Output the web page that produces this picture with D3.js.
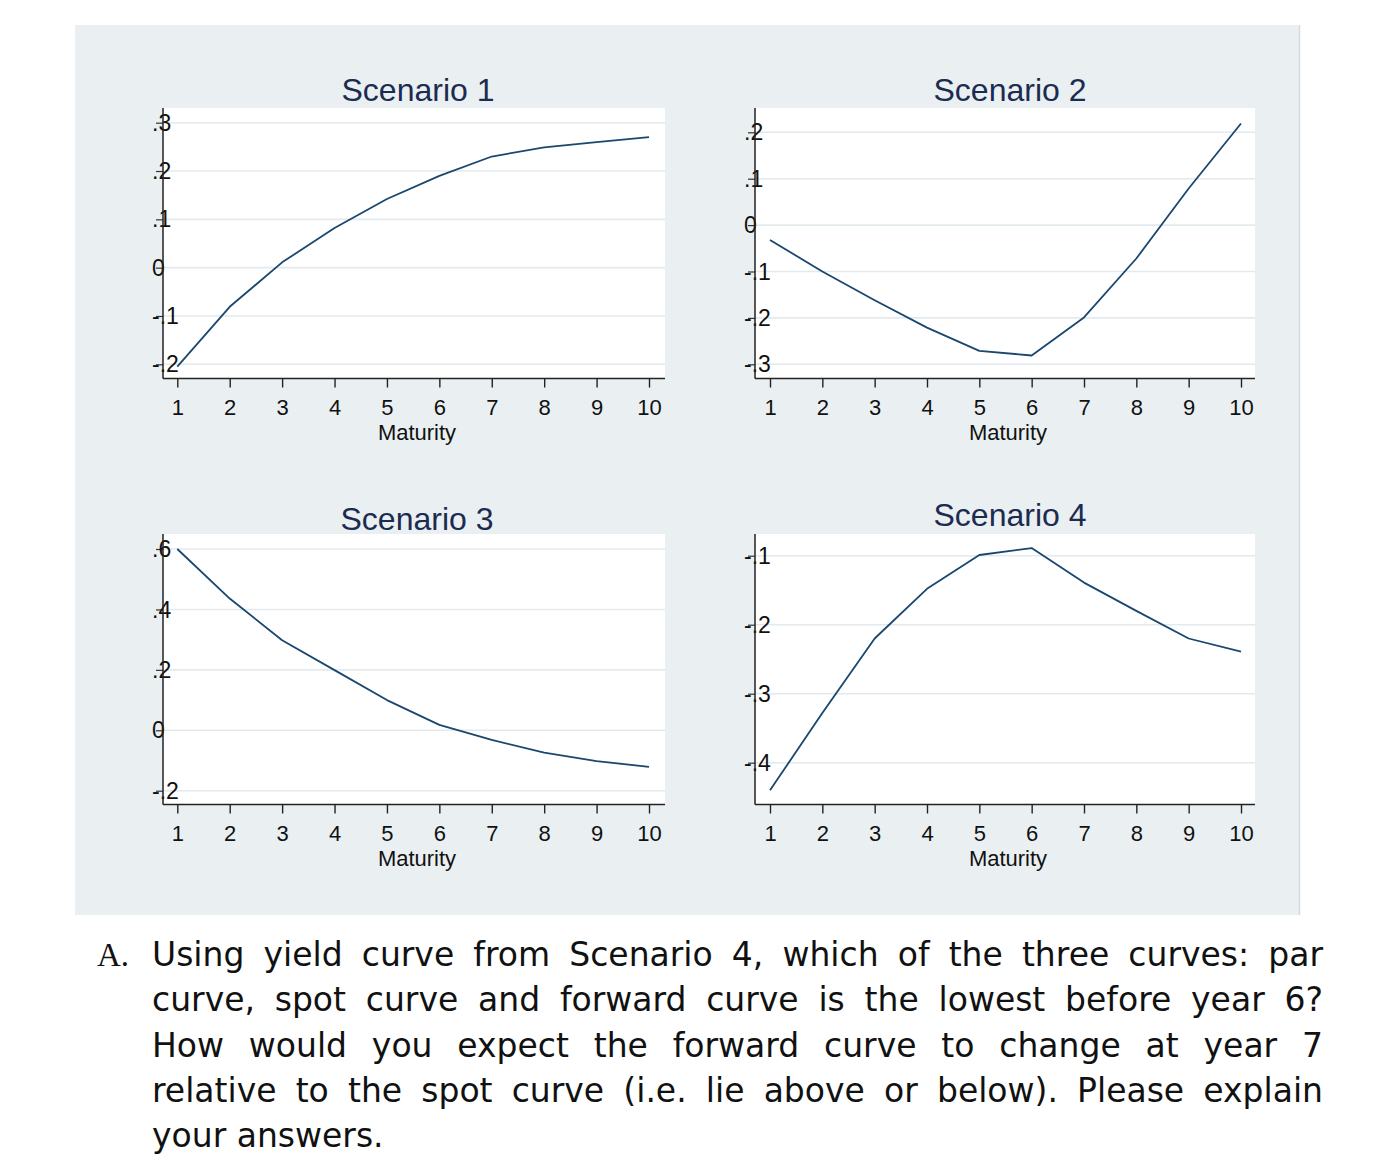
<!DOCTYPE html>
<html>
<head>
<meta charset="utf-8">
<script src="https://cdn.jsdelivr.net/npm/d3@7"></script>
<style>
  html, body { margin: 0; padding: 0; background: #ffffff; }
  svg { display: block; }
</style>
</head>
<body>
<svg id="chart" width="1382" height="1168"></svg>
<script>
// ---------------- data ----------------
const maturities = [1, 2, 3, 4, 5, 6, 7, 8, 9, 10];
const scenarioTitles = ["Scenario 1", "Scenario 2", "Scenario 3", "Scenario 4"];
const scenario1 = [-0.205, -0.081, 0.011, 0.082, 0.142, 0.19, 0.23, 0.249, 0.26, 0.27];
const scenario2 = [-0.032, -0.10, -0.162, -0.221, -0.271, -0.281, -0.199, -0.072, 0.079, 0.219];
const scenario3 = [0.60, 0.436, 0.298, 0.199, 0.10, 0.018, -0.032, -0.074, -0.102, -0.121];
const scenario4 = [-0.44, -0.328, -0.22, -0.148, -0.099, -0.089, -0.139, -0.18, -0.22, -0.239];
const yTicks1 = [-0.2, -0.1, 0, 0.1, 0.2, 0.3];
const yTicks2 = [-0.3, -0.2, -0.1, 0, 0.1, 0.2];
const yTicks3 = [-0.2, 0, 0.2, 0.4, 0.6];
const yTicks4 = [-0.4, -0.3, -0.2, -0.1];
const xTicks = [1, 2, 3, 4, 5, 6, 7, 8, 9, 10];
const xAxisTitle = "Maturity";
const questionLabel = "A.";
const questionLines = [
  "Using yield curve from Scenario 4, which of the three curves: par",
  "curve, spot curve and forward curve is the lowest before year 6?",
  "How would you expect the forward curve to change at year 7",
  "relative to the spot curve (i.e. lie above or below). Please explain",
  "your answers."
];

// ---------------- layout ----------------
const svg = d3.select("#chart");
const lineColor = "#1a476f";
const titleColor = "#1c2b50";
const gridColor = "#e3eaee";
const axisFont = "'Liberation Sans', Arial, sans-serif";

svg.append("rect").attr("x", 75).attr("y", 25).attr("width", 1224).attr("height", 890)
  .attr("fill", "#eaf0f2");
svg.append("line").attr("x1", 1299.5).attr("x2", 1299.5).attr("y1", 25).attr("y2", 915)
  .attr("stroke", "#d3dbdf").attr("stroke-width", 1.5);

const panels = [
  { title: scenarioTitles[0], values: scenario1, ticks: yTicks1,
    left: 163, right: 665, top: 108, bottom: 378.5, xr: [177.3, 649],
    yd: [-0.2, 0.3], yr: [364.3, 122.7], titleX: 418, titleY: 101 },
  { title: scenarioTitles[1], values: scenario2, ticks: yTicks2,
    left: 755, right: 1255, top: 108, bottom: 378.5, xr: [770, 1241],
    yd: [-0.3, 0.2], yr: [364.3, 132.3], titleX: 1010, titleY: 101 },
  { title: scenarioTitles[2], values: scenario3, ticks: yTicks3,
    left: 163, right: 665, top: 534, bottom: 804.5, xr: [177.3, 649],
    yd: [-0.2, 0.6], yr: [790.7, 549], titleX: 417, titleY: 530 },
  { title: scenarioTitles[3], values: scenario4, ticks: yTicks4,
    left: 755, right: 1255, top: 534, bottom: 804.5, xr: [770, 1241],
    yd: [-0.4, -0.1], yr: [762.7, 555.7], titleX: 1010, titleY: 526 }
];

function stataFmt(d) {
  if (Math.abs(d) < 1e-9) return "0";
  const s = String(Math.round(Math.abs(d) * 10) / 10).replace(/^0/, "");
  return (d < 0 ? "-" : "") + s;
}

panels.forEach(p => {
  const g = svg.append("g");
  const x = d3.scaleLinear().domain([1, 10]).range(p.xr);
  const y = d3.scaleLinear().domain(p.yd).range(p.yr);

  // white plot region
  g.append("rect").attr("x", p.left).attr("y", p.top)
    .attr("width", p.right - p.left).attr("height", p.bottom - p.top)
    .attr("fill", "#ffffff");

  // gridlines
  g.selectAll(".grid").data(p.ticks).enter().append("line")
    .attr("x1", p.left).attr("x2", p.right)
    .attr("y1", d => y(d)).attr("y2", d => y(d))
    .attr("stroke", gridColor).attr("stroke-width", 1.6);

  // data line
  const line = d3.line().x((d, i) => x(maturities[i])).y(d => y(d));
  g.append("path").datum(p.values).attr("d", line)
    .attr("fill", "none").attr("stroke", lineColor).attr("stroke-width", 1.8)
    .attr("stroke-linejoin", "round");

  // x axis
  const xAxis = d3.axisBottom(x).tickValues(xTicks).tickSize(9).tickPadding(12)
    .tickFormat(d3.format("d"));
  const xg = g.append("g").attr("transform", `translate(0,${p.bottom})`).call(xAxis);
  xg.select(".domain").remove();
  xg.selectAll(".tick line").attr("stroke", "#222").attr("stroke-width", 1.4);
  xg.selectAll(".tick text").attr("font-family", axisFont).attr("font-size", 22)
    .attr("fill", "#111");
  g.append("line").attr("x1", p.left).attr("x2", p.right)
    .attr("y1", p.bottom).attr("y2", p.bottom)
    .attr("stroke", "#222").attr("stroke-width", 1.5);

  // y axis
  const yAxis = d3.axisLeft(y).tickValues(p.ticks).tickSize(7).tickPadding(0)
    .tickFormat(stataFmt);
  const yg = g.append("g").attr("transform", `translate(${p.left},0)`).call(yAxis);
  yg.select(".domain").remove();
  yg.selectAll(".tick line").attr("stroke", "#333").attr("stroke-width", 1.2);
  yg.selectAll(".tick text").attr("font-family", axisFont).attr("font-size", 23)
    .attr("fill", "#111").attr("text-anchor", "start").attr("x", -11).attr("dy", "0.33em");
  g.append("line").attr("x1", p.left).attr("x2", p.left)
    .attr("y1", p.top).attr("y2", p.bottom)
    .attr("stroke", "#222").attr("stroke-width", 1.5);

  // x title
  g.append("text").attr("x", (p.left + p.right) / 2 + 3).attr("y", p.bottom + 61)
    .attr("text-anchor", "middle").attr("font-family", axisFont).attr("font-size", 22)
    .attr("fill", "#111").text(xAxisTitle);

  // panel title
  g.append("text").attr("x", p.titleX).attr("y", p.titleY)
    .attr("text-anchor", "middle").attr("font-family", axisFont).attr("font-size", 32)
    .attr("fill", titleColor).text(p.title);
});

// ---------------- question text ----------------
const qFont = "'DejaVu Sans', sans-serif";
const qSize = 33;
const textLeft = 152, textRight = 1323;
const firstBaseline = 966, lineStep = 45.3;

svg.append("text").attr("x", 97).attr("y", firstBaseline)
  .attr("font-family", "'Liberation Serif', 'Times New Roman', serif")
  .attr("font-size", qSize).attr("fill", "#111").text(questionLabel);

questionLines.forEach((ln, i) => {
  const t = svg.append("text").attr("x", textLeft).attr("y", firstBaseline + i * lineStep)
    .attr("font-family", qFont).attr("font-size", qSize).attr("fill", "#111").text(ln);
  if (i < questionLines.length - 1) {
    const w = t.node().getComputedTextLength();
    const spaces = (ln.match(/ /g) || []).length;
    if (spaces > 0) t.style("word-spacing", ((textRight - textLeft - w) / spaces) + "px");
  }
});
</script>
</body>
</html>
